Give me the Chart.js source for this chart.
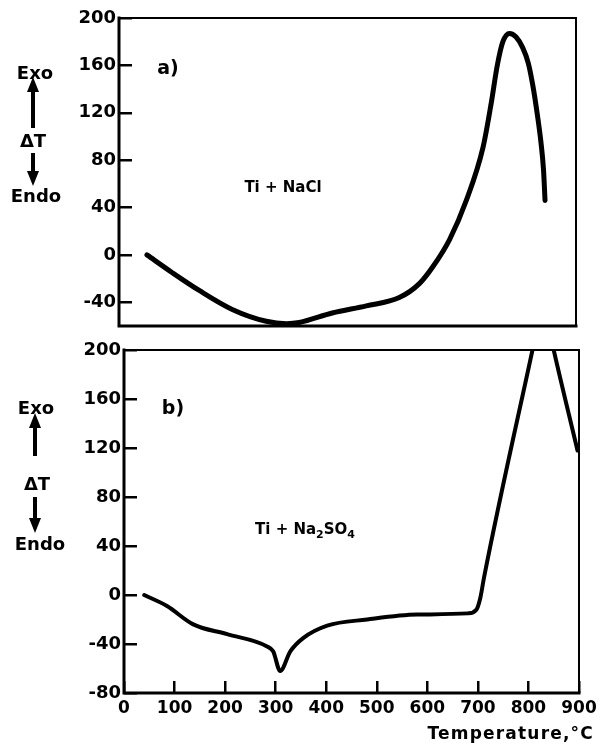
<!DOCTYPE html>
<html>
<head>
<meta charset="utf-8">
<script src="https://cdn.jsdelivr.net/npm/chart.js@4/dist/chart.umd.min.js"></script>
<style>
  body { margin: 0; background: #fff; }
  #wrap { position: relative; width: 603px; height: 749px; overflow: hidden; font-family: "DejaVu Sans", sans-serif; font-weight: bold; color: #000; }
  .box { position: absolute; left: 0; width: 603px; }
  .lbl { position: absolute; transform: translate(-50%, -50%); white-space: nowrap; font-size: 18px; }
  .shaft { position: absolute; width: 4px; background: #000; }
  .headUp { position: absolute; width: 0; height: 0; border-left: 6px solid transparent; border-right: 6px solid transparent; border-bottom: 15px solid #000; }
  .headDown { position: absolute; width: 0; height: 0; border-left: 6px solid transparent; border-right: 6px solid transparent; border-top: 15px solid #000; }
</style>
</head>
<body>
<div id="wrap">
  <div class="box" style="top:0;height:345px;"><canvas id="chartA" width="603" height="345"></canvas></div>
  <div class="box" style="top:330px;height:419px;"><canvas id="chartB" width="603" height="419"></canvas></div>

  <!-- panel a annotations -->
  <div class="lbl" style="left:35px;top:72px;">Exo</div>
  <div class="headUp" style="left:27px;top:77px;"></div>
  <div class="shaft" style="left:31px;top:91px;height:37px;"></div>
  <div class="lbl" style="left:33px;top:140px;">&Delta;T</div>
  <div class="shaft" style="left:31px;top:153px;height:20px;"></div>
  <div class="headDown" style="left:27px;top:171px;"></div>
  <div class="lbl" style="left:36px;top:195px;">Endo</div>
  <div class="lbl" style="left:168px;top:67px;font-size:19px;">a)</div>
  <div class="lbl" style="left:283px;top:187px;font-size:15px;">Ti + NaCl</div>

  <!-- panel b annotations -->
  <div class="lbl" style="left:36px;top:407px;">Exo</div>
  <div class="headUp" style="left:29px;top:413px;"></div>
  <div class="shaft" style="left:33px;top:427px;height:29px;"></div>
  <div class="lbl" style="left:37px;top:483px;">&Delta;T</div>
  <div class="shaft" style="left:33px;top:497px;height:22px;"></div>
  <div class="headDown" style="left:29px;top:518px;"></div>
  <div class="lbl" style="left:40px;top:543px;">Endo</div>
  <div class="lbl" style="left:173px;top:407px;font-size:19px;">b)</div>
  <div class="lbl" style="left:305px;top:530px;font-size:15px;">Ti + Na<sub style="font-size:11px;">2</sub>SO<sub style="font-size:11px;">4</sub></div>

  <div style="position:absolute;right:9px;top:723px;font-size:17px;letter-spacing:1.2px;">Temperature,&deg;C</div>
</div>

<script>
// panel a) Ti + NaCl
var tempA = [55, 105, 158, 223, 290, 330, 355, 420, 487, 552, 592, 618, 651, 684, 717, 733, 745, 756, 769, 782, 795, 806, 815, 824, 831, 836, 839];
var dtA   = [0, -15, -30, -46, -56, -58, -57, -49, -43, -36, -24, -10, 13, 46, 91, 128, 160, 180, 187, 184, 175, 162, 143, 118, 95, 72, 46];

// panel b) Ti + Na2SO4
var tempB = [40, 85, 137, 204, 283, 295, 309, 329, 355, 402, 481, 580, 680, 697, 705, 712, 808, 829, 850, 897];
var dtB   = [0, -9, -24, -32, -42, -46, -62, -46, -35, -25, -20, -16, -15, -12, -2, 14, 200, 240, 200, 118];

var yTicksA = [-40, 0, 40, 80, 120, 160, 200];
var yTicksB = [-80, -40, 0, 40, 80, 120, 160, 200];
var xTicks = [0, 100, 200, 300, 400, 500, 600, 700, 800, 900];

// draws the box round the plot area
var framePlugin = {
    id: "frame",
    afterDraw: function (chart) {
        var a = chart.chartArea, c = chart.ctx;
        c.save();
        c.strokeStyle = "#000";
        c.lineCap = "square";
        c.lineWidth = 2;
        c.beginPath(); c.moveTo(a.left, a.top); c.lineTo(a.right, a.top); c.lineTo(a.right, a.bottom); c.stroke();
        c.lineWidth = 3;
        c.beginPath(); c.moveTo(a.left, a.top); c.lineTo(a.left, a.bottom); c.lineTo(a.right, a.bottom); c.stroke();
        c.restore();
    }
};

function toPoints(xs, ys) {
    return xs.map(function (x, i) { return { x: x, y: ys[i] }; });
}

function makeChart(id, xs, ys, yMin, yTicks, lineW, pad, yWidth, showX) {
    return new Chart(document.getElementById(id), {
        type: "line",
        data: {
            datasets: [{
                data: toPoints(xs, ys),
                borderColor: "#000",
                borderWidth: lineW,
                pointRadius: 0,
                cubicInterpolationMode: "monotone",
                borderCapStyle: "round",
                clip: 0
            }]
        },
        options: {
            responsive: false,
            animation: false,
            events: [],
            layout: { padding: pad },
            plugins: { legend: { display: false }, tooltip: { enabled: false } },
            scales: {
                x: {
                    type: "linear",
                    min: 0,
                    max: 900,
                    display: showX,
                    afterBuildTicks: function (s) { s.ticks = xTicks.map(function (v) { return { value: v }; }); },
                    afterFit: function (s) { if (showX) { s.height = 40; } s.paddingLeft = 0; s.paddingRight = 0; },
                    ticks: { color: "#000", font: { family: "DejaVu Sans", size: 17, weight: "bold" }, padding: 5, maxRotation: 0, autoSkip: false },
                    grid: { color: "#000", lineWidth: 2.5, drawTicks: false },
                    border: { display: false, dash: [0, 331, 12, 500] }
                },
                y: {
                    min: yMin,
                    max: 200,
                    afterBuildTicks: function (s) { s.ticks = yTicks.map(function (v) { return { value: v }; }); },
                    afterFit: function (s) { s.width = yWidth; s.paddingTop = 0; s.paddingBottom = 0; },
                    ticks: { color: "#000", font: { family: "DejaVu Sans", size: 18, weight: "bold" }, padding: 3 },
                    grid: { color: "#000", lineWidth: 2.5, drawTicks: false },
                    border: { display: false, dash: [13, 1000] }
                }
            }
        },
        plugins: [framePlugin]
    });
}

makeChart("chartA", tempA, dtA, -60, yTicksA, 5, { left: 0, top: 18, right: 27, bottom: 19 }, 119, false);
makeChart("chartB", tempB, dtB, -80, yTicksB, 4, { left: 0, top: 20, right: 24, bottom: 16 }, 124, true);
</script>
</body>
</html>
